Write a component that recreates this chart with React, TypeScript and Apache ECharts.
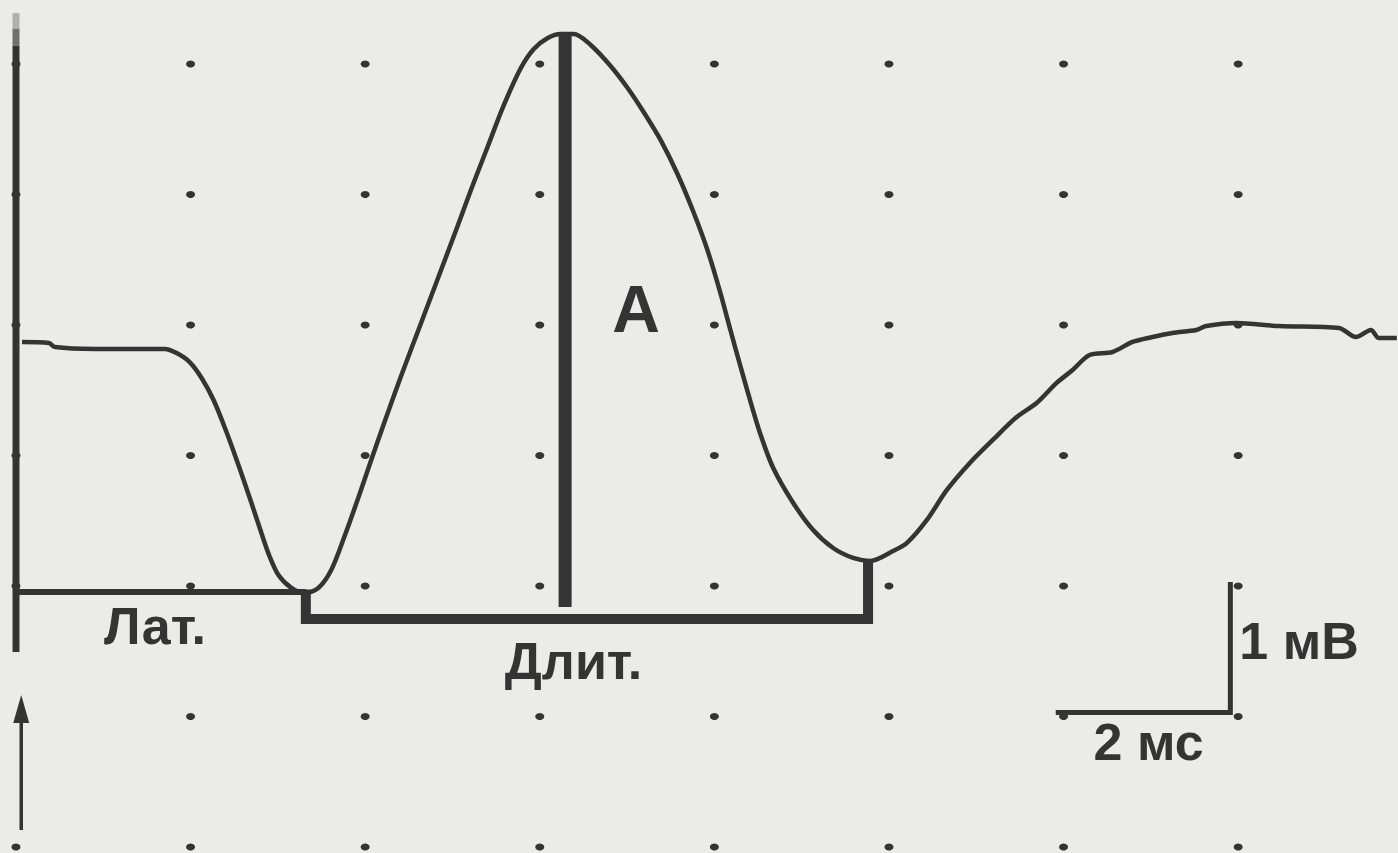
import React, { useEffect, useRef } from "react";
import * as echarts from "echarts";

// Waveform (time in ms, amplitude in mV)
const timeMs = [
  0.069, 0.377, 0.446, 0.903, 1.703, 1.84, 1.989, 2.126, 2.263, 2.411, 2.56, 2.697, 2.811, 2.903, 3.006,
  3.154, 3.303, 3.463, 3.611, 3.76, 3.92, 4.069, 4.217, 4.411, 4.64, 4.869, 5.063, 5.211, 5.406, 5.589,
  5.783, 5.931, 6.091, 6.24, 6.389, 6.583, 6.811, 7.006, 7.189, 7.383, 7.577, 7.76, 7.92, 8.069,
  8.183, 8.297, 8.411, 8.526, 8.674, 8.903, 9.131, 9.36, 9.589, 9.783, 10.046, 10.206, 10.434, 10.663,
  10.926, 11.189, 11.463, 11.691, 11.92, 12.103, 12.297, 12.56, 12.789, 13.017, 13.246, 13.52, 13.634,
  13.977, 14.469, 15.154, 15.349, 15.52, 15.611, 15.817,
];
const voltMv = [
  1.87, 1.862, 1.831, 1.816, 1.816, 1.785, 1.716, 1.594, 1.425, 1.18, 0.904, 0.636, 0.406, 0.23, 0.084,
  -0.015, -0.054, -0.015, 0.123, 0.375, 0.674, 0.965, 1.249, 1.609, 2.015, 2.421, 2.766, 3.034, 3.372, 3.686,
  3.969, 4.115, 4.199, 4.23, 4.23, 4.146, 3.985, 3.816, 3.632, 3.418, 3.157, 2.866, 2.575, 2.245,
  1.962, 1.686, 1.418, 1.165, 0.904, 0.636, 0.429, 0.291, 0.215, 0.192, 0.268, 0.33, 0.506, 0.736,
  0.943, 1.119, 1.295, 1.402, 1.556, 1.655, 1.77, 1.793, 1.87, 1.908, 1.939, 1.962, 1.992,
  2.015, 1.992, 1.977, 1.908, 1.962, 1.9, 1.9,
];

// Dotted grid: 2 ms x 1 mV
const gridTimes = [0, 2, 4, 6, 8, 10, 12, 14];
const gridVolts = [-2, -1, 0, 1, 2, 3, 4];
const hiddenDots = [[0, -1]]; // covered by the stimulus arrow

// Measurement markers
const stimulusMs = 0;
const stimulusTopMv = 4.39;
const stimulusBottomMv = -0.506;
const latencyLevelMv = -0.046;
const latencyMs = 3.32;
const durationEndMs = 9.76;
const durationLevelMv = -0.253;
const durationEndTopMv = 0.19;
const peakMs = 6.29;
const peakMv = 4.23;
const amplitudeBottomMv = -0.161;
const arrowMs = 0.06;
const arrowTailMv = -1.87;
const arrowTipMv = -0.835;
const scaleTimeStart = 11.91;
const scaleTimeEnd = 13.91;
const scaleVoltBottom = -0.97;
const scaleVoltTop = 0.03;

// Labels
const labelTexts = ["Лат.", "Длит.", "A", "1 мВ", "2 мс"];
const labelTimes = [1.592, 6.386, 7.102, 14.697, 12.973];
const labelVolts = [-0.307, -0.575, 2.123, -0.421, -1.192];
const labelSizes = [52, 52, 66, 52, 52];

const INK = "#343434";

export default function App() {
  const ref = useRef<HTMLDivElement>(null);
  useEffect(() => {
    if (!ref.current) return;
    const chart = echarts.init(ref.current, null, { renderer: "svg" });
    const wave = timeMs.map((t, i) => [t, voltMv[i]]);
    const dots: number[][] = [];
    gridTimes.forEach((t) =>
      gridVolts.forEach((v) => {
        if (!hiddenDots.some((h) => h[0] === t && h[1] === v)) dots.push([t, v]);
      })
    );
    const seg = (data: number[][], width: number, color = INK, z = 3) => ({
      type: "line",
      data,
      symbol: "none",
      silent: true,
      z,
      lineStyle: { color, width, cap: "butt", join: "miter", opacity: 1 },
    });
    chart.setOption({
      animation: false,
      backgroundColor: "#ebebea",
      grid: { left: 0, right: 0, top: 0, bottom: 0, containLabel: false },
      xAxis: {
        type: "value",
        min: -16 / 87.3,
        max: (1398 - 16) / 87.3,
        show: false,
      },
      yAxis: {
        type: "value",
        min: (586 - 853) / 130.5,
        max: 586 / 130.5,
        show: false,
      },
      series: [
        {
          type: "scatter",
          data: dots,
          symbol: "circle",
          symbolSize: [9, 7],
          itemStyle: { color: INK, opacity: 1 },
          silent: true,
          z: 1,
        },
        seg([[stimulusMs, stimulusTopMv], [stimulusMs, stimulusTopMv - 0.12]], 7, "#b0b0b0"),
        seg([[stimulusMs, stimulusTopMv - 0.12], [stimulusMs, stimulusTopMv - 0.25]], 7, "#707070"),
        seg([[stimulusMs, stimulusTopMv - 0.25], [stimulusMs, stimulusBottomMv]], 7),
        seg([[stimulusMs, latencyLevelMv], [latencyMs, latencyLevelMv]], 6),
        seg(
          [
            [latencyMs, latencyLevelMv + 0.02],
            [latencyMs, durationLevelMv],
            [durationEndMs, durationLevelMv],
            [durationEndMs, durationEndTopMv],
          ],
          10
        ),
        seg([[peakMs, peakMv], [peakMs, amplitudeBottomMv]], 13),
        seg(
          [
            [scaleTimeStart, scaleVoltBottom],
            [scaleTimeEnd, scaleVoltBottom],
            [scaleTimeEnd, scaleVoltTop],
          ],
          5
        ),
        seg([[arrowMs, arrowTailMv], [arrowMs, arrowTipMv - 0.1]], 3.5),
        {
          type: "scatter",
          data: [[arrowMs, arrowTipMv]],
          symbol: "triangle",
          symbolSize: [16, 28],
          symbolOffset: [0, "50%"],
          itemStyle: { color: INK, opacity: 1 },
          silent: true,
          z: 4,
        },
        {
          type: "line",
          data: wave,
          symbol: "none",
          smooth: 0.3,
          silent: true,
          z: 5,
          lineStyle: { color: INK, width: 4.5, opacity: 1 },
        },
        {
          type: "scatter",
          silent: true,
          z: 6,
          symbolSize: 1,
          itemStyle: { color: "transparent", opacity: 1 },
          data: labelTexts.map((txt, i) => ({
            name: txt,
            value: [labelTimes[i], labelVolts[i]],
            label: { fontSize: labelSizes[i] },
          })),
          label: {
            show: true,
            position: "inside",
            formatter: "{b}",
            color: INK,
            opacity: 1,
            fontFamily: "Liberation Sans, Arial, sans-serif",
            fontWeight: "bold",
            align: "center",
            verticalAlign: "middle",
          },
        },
      ],
    });
    return () => chart.dispose();
  }, []);
  return (
    <div
      ref={ref}
      style={{ position: "fixed", left: 0, top: 0, width: 1398, height: 853 }}
    />
  );
}
